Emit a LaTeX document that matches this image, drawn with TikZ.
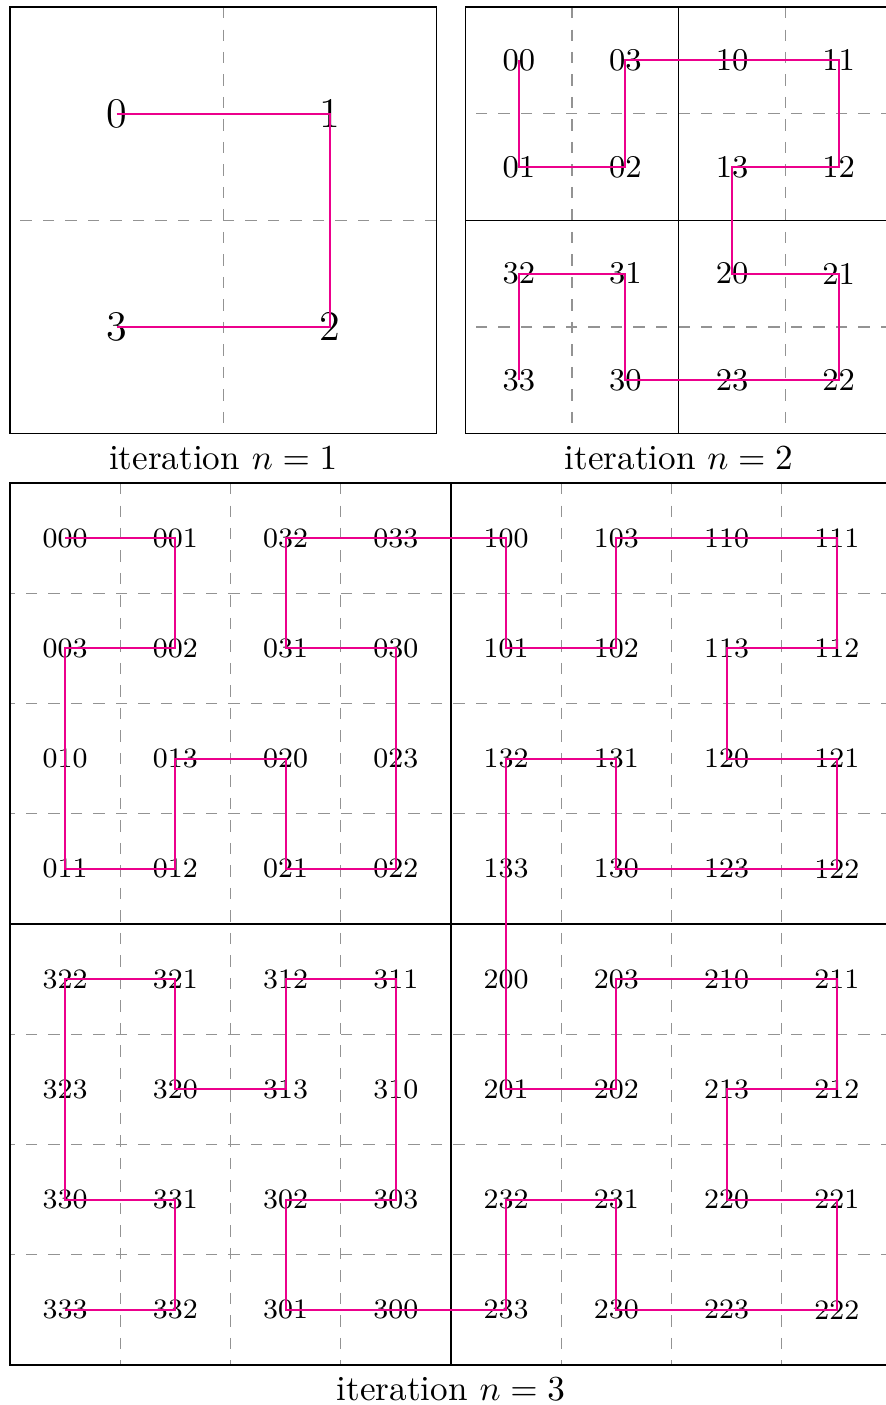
\documentclass[tikz,border=0pt]{standalone}
\usepackage{tikz}
\usepackage{xcolor}
\usepackage{amsmath}

\definecolor{curvepink}{RGB}{236,0,140}

\begin{document}
\begin{tikzpicture}[
  gridline/.style={gray!85, dash pattern=on 3.2pt off 3.2pt},
  curve/.style={curvepink, semithick},
  caption/.style={anchor=north}
]
\useasboundingbox (0,0) rectangle (8.85,-14.05);

% --- iteration n = 1 (2x2 cells) ---
\begin{scope}[shift={(0.10,-0.07)}, x=2.1325cm, y=-2.1325cm]
  \draw[gridline] (1,0) -- (1,2);
  \draw[gridline] (2,1) -- (0,1);
  \draw (0,0) rectangle (2,2);
  \foreach \lab/\c/\r in {0/0/0,1/1/0,2/1/1,3/0/1}
    \node[font=\large] (n1-\lab) at (\c+0.5,\r+0.5) {\lab};
  \draw[curve] (n1-0.center) -- (n1-1.center) -- (n1-2.center) -- (n1-3.center);
  \node[caption] (cap1) at (1,2) {iteration $n=1$};
\end{scope}

% --- iteration n = 2 (4x4 cells) ---
\begin{scope}[shift={(4.655,-0.07)}, x=1.06625cm, y=-1.06625cm]
  \foreach \k in {1,3} {
    \draw[gridline] (\k,0) -- (\k,4);
    \draw[gridline] (4,\k) -- (0,\k);
  }
  \draw (0,0) rectangle (4,4);
  \draw (2,0) -- (2,4) (0,2) -- (4,2);
  \foreach \row [count=\r] in {{00,03,10,11},{01,02,13,12},{32,31,20,21},{33,30,23,22}}
    \foreach \lab [count=\c] in \row
      \node[font=\small] (n2-\lab) at (\c-0.5,\r-0.5) {\lab};
  \draw[curve] (n2-00.center)
    \foreach \i [evaluate=\i as \a using {int(\i/4)},
                 evaluate=\i as \b using {int(mod(\i,4))}] in {1,...,15} { -- (n2-\a\b.center) };
  \node[caption] (cap2) at (2,4) {iteration $n=2$};
\end{scope}

% --- iteration n = 3 (8x8 cells) ---
\begin{scope}[shift={(0.10,-4.83)}, x=1.1025cm, y=-1.1025cm]
  \foreach \k in {1,2,3,5,6,7} {
    \draw[gridline] (\k,0) -- (\k,8);
    \draw[gridline] (8,\k) -- (0,\k);
  }
  \draw (0,0) rectangle (8,8);
  \draw (4,0) -- (4,8) (0,4) -- (8,4);
  \foreach \row [count=\r] in {{000,001,032,033,100,103,110,111},
                               {003,002,031,030,101,102,113,112},
                               {010,013,020,023,132,131,120,121},
                               {011,012,021,022,133,130,123,122},
                               {322,321,312,311,200,203,210,211},
                               {323,320,313,310,201,202,213,212},
                               {330,331,302,303,232,231,220,221},
                               {333,332,301,300,233,230,223,222}}
    \foreach \lab [count=\c] in \row
      \node[font=\footnotesize] (n3-\lab) at (\c-0.5,\r-0.5) {\lab};
  \draw[curve] (n3-000.center)
    \foreach \i [evaluate=\i as \a using {int(\i/16)},
                 evaluate=\i as \b using {int(mod(\i,16)/4)},
                 evaluate=\i as \c using {int(mod(\i,4))}] in {1,...,63} { -- (n3-\a\b\c.center) };
  \node[caption] (cap3) at (4,8) {iteration $n=3$};
\end{scope}

\end{tikzpicture}
\end{document}
